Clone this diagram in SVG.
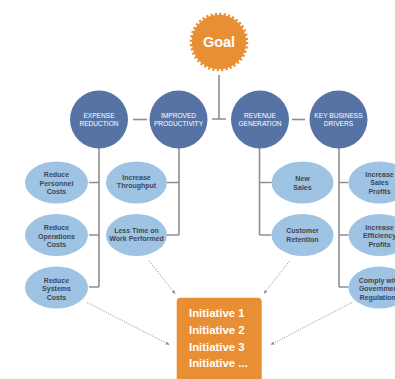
<svg xmlns="http://www.w3.org/2000/svg" width="395" height="379" viewBox="0 0 395 379">
<defs>
<style>
.bg{fill:#ffffff}
.line{fill:none;stroke:#8e8e8e;stroke-width:1.6}
.dot{fill:none;stroke:#a0a0a0;stroke-width:1;stroke-dasharray:1.3 1.3}
.cat{fill:#5673a6}
.cat-t{font-family:"Liberation Sans",Arial,sans-serif;font-size:6.6px;fill:#ffffff;text-anchor:middle}
.leaf{fill:#9fc4e3}
.leaf-t{font-family:"Liberation Sans",Arial,sans-serif;font-size:7px;font-weight:bold;fill:#3d4756;text-anchor:middle}
.goal{fill:#e88f35}
.goal-t{font-family:"Liberation Sans",Arial,sans-serif;font-size:14.5px;font-weight:bold;fill:#ffffff;text-anchor:middle}
.init{fill:#e88f35}
.init-t{font-family:"Liberation Sans",Arial,sans-serif;font-size:11.4px;font-weight:bold;fill:#ffffff}
</style>
<marker id="ah" viewBox="0 0 6 6" refX="5" refY="3" markerWidth="4" markerHeight="4" orient="auto" markerUnits="userSpaceOnUse">
<path d="M0,0.5 L6,3 L0,5.5 Z" fill="#8e8e8e"/>
</marker>
</defs>
<rect class="bg" x="0" y="0" width="395" height="379"/>

<g id="connectors">
<path class="line" d="M219,75 V119 M212,119 H226"/>
<path class="line" d="M133,119.5 H147"/>
<path class="line" d="M292,119.5 H305"/>
<path class="line" d="M99,148 V287 M89,182.5 H99 M89,235 H99 M89,287 H99"/>
<path class="line" d="M179,148 V235 M167,182.5 H179 M167,235 H179"/>
<path class="line" d="M259.5,148 V235 M259.5,182.5 H271.5 M259.5,235 H271.5"/>
<path class="line" d="M339,148 V287 M339,182.5 H348.5 M339,235 H348.5 M339,287 H348.5"/>
<path class="dot" d="M149,261 L175,293.5" marker-end="url(#ah)"/>
<path class="dot" d="M289.5,261 L264,293.5" marker-end="url(#ah)"/>
<path class="dot" d="M87,302.5 L169,344.5" marker-end="url(#ah)"/>
<path class="dot" d="M352,302.5 L271,344.5" marker-end="url(#ah)"/>
</g>

<g id="goal">
<circle class="goal" cx="219" cy="42" r="27.2"/>
<circle cx="219" cy="42" r="28" fill="none" stroke="#e88f35" stroke-width="2.6" stroke-dasharray="2.2 2.2"/>
<text class="goal-t" x="219" y="46.8">Goal</text>
</g>

<g id="expense-reduction">
<circle class="cat" cx="99" cy="119.5" r="29"/>
<text class="cat-t" x="99" y="118.3">EXPENSE</text>
<text class="cat-t" x="99" y="125.8">REDUCTION</text>
</g>
<g id="improved-productivity">
<circle class="cat" cx="178.5" cy="119.5" r="29"/>
<text class="cat-t" x="178.5" y="118.3">IMPROVED</text>
<text class="cat-t" x="178.5" y="125.8">PRODUCTIVITY</text>
</g>
<g id="revenue-generation">
<circle class="cat" cx="260" cy="119.5" r="29"/>
<text class="cat-t" x="260" y="118.3">REVENUE</text>
<text class="cat-t" x="260" y="125.8">GENERATION</text>
</g>
<g id="key-business-drivers">
<circle class="cat" cx="338.5" cy="119.5" r="29"/>
<text class="cat-t" x="338.5" y="118.3">KEY BUSINESS</text>
<text class="cat-t" x="338.5" y="125.8">DRIVERS</text>
</g>

<g id="reduce-personnel-costs">
<ellipse class="leaf" cx="56.5" cy="182.5" rx="31.5" ry="21"/>
<text class="leaf-t" x="56.5" y="176.8">Reduce</text>
<text class="leaf-t" x="56.5" y="185.5">Personnel</text>
<text class="leaf-t" x="56.5" y="194.2">Costs</text>
</g>
<g id="reduce-operations-costs">
<ellipse class="leaf" cx="56.5" cy="235" rx="31.5" ry="21"/>
<text class="leaf-t" x="56.5" y="229.8">Reduce</text>
<text class="leaf-t" x="56.5" y="238.5">Operations</text>
<text class="leaf-t" x="56.5" y="247.2">Costs</text>
</g>
<g id="reduce-systems-costs">
<ellipse class="leaf" cx="56.5" cy="287.5" rx="31.5" ry="21"/>
<text class="leaf-t" x="56.5" y="282.5">Reduce</text>
<text class="leaf-t" x="56.5" y="291.3">Systems</text>
<text class="leaf-t" x="56.5" y="300.1">Costs</text>
</g>
<g id="increase-throughput">
<ellipse class="leaf" cx="136.5" cy="182.5" rx="30.5" ry="21"/>
<text class="leaf-t" x="136.5" y="179.5">Increase</text>
<text class="leaf-t" x="136.5" y="188.2">Throughput</text>
</g>
<g id="less-time-on-work-performed">
<ellipse class="leaf" cx="136.5" cy="235" rx="30.5" ry="21"/>
<text class="leaf-t" x="136.5" y="232.5">Less Time on</text>
<text class="leaf-t" x="136.5" y="241.2">Work Performed</text>
</g>
<g id="new-sales">
<ellipse class="leaf" cx="302.5" cy="182.5" rx="31" ry="21"/>
<text class="leaf-t" x="302.5" y="180.8">New</text>
<text class="leaf-t" x="302.5" y="189.5">Sales</text>
</g>
<g id="customer-retention">
<ellipse class="leaf" cx="302.5" cy="235" rx="31" ry="21"/>
<text class="leaf-t" x="302.5" y="233">Customer</text>
<text class="leaf-t" x="302.5" y="241.7">Retention</text>
</g>
<g id="increase-sales-profits">
<ellipse class="leaf" cx="379.5" cy="182.5" rx="31" ry="21"/>
<text class="leaf-t" x="379.5" y="176.5">Increase</text>
<text class="leaf-t" x="379.5" y="185.3">Sales</text>
<text class="leaf-t" x="379.5" y="194.1">Profits</text>
</g>
<g id="increase-efficiency-profits">
<ellipse class="leaf" cx="379.5" cy="235" rx="31" ry="21"/>
<text class="leaf-t" x="379.5" y="229.5">Increase</text>
<text class="leaf-t" x="379.5" y="238.3">Efficiency</text>
<text class="leaf-t" x="379.5" y="247.1">Profits</text>
</g>
<g id="comply-with-government-regulations">
<ellipse class="leaf" cx="379.5" cy="287.5" rx="31" ry="21"/>
<text class="leaf-t" x="379.5" y="282.5">Comply with</text>
<text class="leaf-t" x="379.5" y="291">Government</text>
<text class="leaf-t" x="379.5" y="299.5">Regulations</text>
</g>

<g id="initiatives">
<rect class="init" x="176.7" y="297.7" width="85" height="90" rx="4"/>
<text class="init-t" x="189" y="317.3">Initiative 1</text>
<text class="init-t" x="189" y="334">Initiative 2</text>
<text class="init-t" x="189" y="350.7">Initiative 3</text>
<text class="init-t" x="189" y="367.4">Initiative ...</text>
</g>
</svg>
